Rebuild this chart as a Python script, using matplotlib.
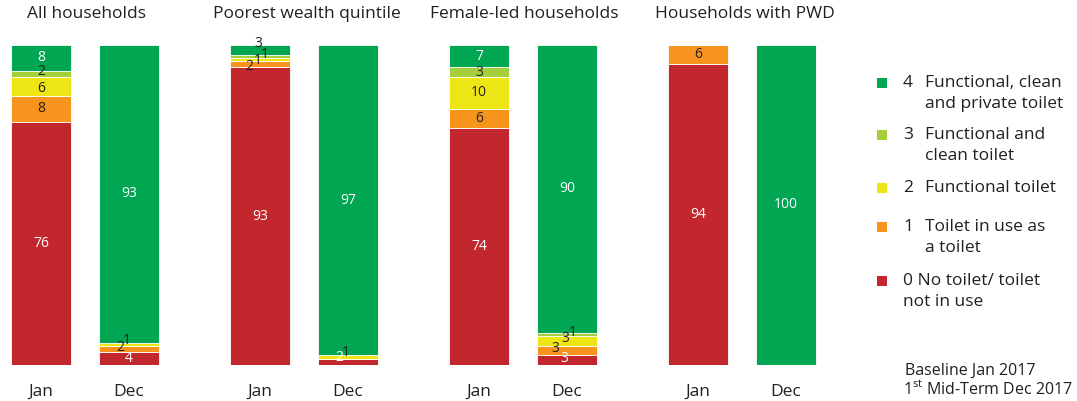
import matplotlib
matplotlib.use("Agg")
import matplotlib.pyplot as plt
from matplotlib.patches import Rectangle

plt.rcParams['font.family'] = ['Open Sans', 'DejaVu Sans']
plt.rcParams['mathtext.fontset'] = 'custom'
plt.rcParams['mathtext.rm'] = 'Open Sans'

# data
groups = ["All households", "Poorest wealth quintile", "Female-led households", "Households with PWD"]
periods = ["Jan", "Dec"]
level_nums = ["0", "1", "2", "3", "4"]
level_names = [["No toilet/ toilet", "not in use"], ["Toilet in use as", "a toilet"],
               ["Functional toilet"], ["Functional and", "clean toilet"],
               ["Functional, clean", "and private toilet"]]
# one list per level, 8 bars: (group, Jan/Dec)
lvl0 = [76, 4, 93, 2, 74, 3, 94, 0]
lvl1 = [8, 2, 2, 0, 6, 3, 6, 0]
lvl2 = [6, 1, 1, 1, 10, 3, 0, 0]
lvl3 = [2, 0, 1, 0, 3, 1, 0, 0]
lvl4 = [8, 93, 3, 97, 7, 90, 0, 100]
values = [lvl0, lvl1, lvl2, lvl3, lvl4]

colors = ["#C1272D", "#F7941D", "#EEE614", "#A6CE39", "#00A651"]
dark = "#231F20"
txtcol = ["white", dark, dark, dark, "white"]

# label placement tweaks for thin segments: (bar, level) -> (dx px, y value, colour)
tweak = {
    (0, 2): (0, 86.4, dark), (0, 3): (0, 91.6, dark),
    (1, 1): (-9, 5.5, dark), (1, 2): (-2, 7.8, dark),
    (2, 4): (-2, 100.5, dark), (2, 1): (-11, 93.4, dark),
    (2, 2): (-2, 95.2, dark), (2, 3): (5, 97.0, dark),
    (3, 0): (-9, 2.2, "white"), (3, 2): (-2, 3.8, dark),
    (5, 0): (-3, 1.9, "white"), (5, 1): (-12, 5.3, dark),
    (5, 2): (-2, 8.4, dark), (5, 3): (6, 10.0, dark),
}

W, H = 1077, 401
fs = 12.5
fig = plt.figure(figsize=(W / 100, H / 100), dpi=100)
ax = fig.add_axes([0, (H - 365) / H, 1, 320 / H])
ax.set_xlim(0, W)
ax.set_ylim(0, 100)
ax.axis("off")


def ft(x, y, s, size=fs, **kw):
    # place text by pixel position (y measured from top)
    fig.text(x / W, 1 - y / H, s, color=dark, fontsize=size, **kw)


xs = [41 + g * 219 + p * 88 for g in range(len(groups)) for p in range(len(periods))]
bottom = [0] * len(xs)
for k in range(len(values)):
    ax.bar(xs, values[k], width=60, bottom=bottom, color=colors[k],
           edgecolor="white", linewidth=0.6)
    for i, v in enumerate(values[k]):
        if v > 0:
            if (i, k) in tweak:
                dx, y, c = tweak[(i, k)]
            else:
                dx, y, c = 0, bottom[i] + v / 2, txtcol[k]
            ax.text(xs[i] + dx, y, str(v), ha="center", va="center",
                    fontsize=10, color=c)
    bottom = [b + v for b, v in zip(bottom, values[k])]

for i, x in enumerate(xs):
    ft(x, 396, periods[i % 2], ha="center", va="baseline")

title_x = [27, 213, 430, 655]
for g, t in enumerate(groups):
    ft(title_x[g], 18, t, ha="left", va="baseline")

# legend (first-line baselines)
leg_base = [285, 231, 192, 139, 87]
for k in range(len(level_nums)):
    b = leg_base[k]
    fig.add_artist(Rectangle((877 / W, 1 - (b + 1) / H), 10 / W, 10 / H,
                             transform=fig.transFigure, color=colors[k], lw=0))
    lines = level_names[k]
    if k == 0:
        lines = [level_nums[k] + " " + lines[0]] + lines[1:]
        tx = 903
    else:
        ft(903, b, level_nums[k], ha="left", va="baseline")
        tx = 925
    for j, s in enumerate(lines):
        ft(tx, b + 21 * j, s, ha="left", va="baseline")

ft(905, 375, "Baseline Jan 2017", size=11.5, ha="left", va="baseline")
ft(903, 394, r"1$^{\mathrm{st}}$ Mid-Term Dec 2017", size=11.5, ha="left", va="baseline")

fig.savefig("out.png", dpi=100)
